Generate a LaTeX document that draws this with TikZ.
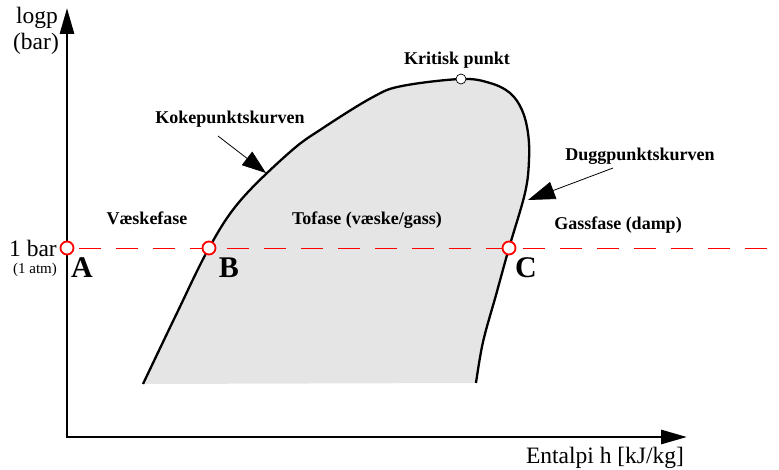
\documentclass[tikz,border=0pt]{standalone}
\usepackage{fontspec}
\setmainfont{Liberation Serif}
\usetikzlibrary{arrows.meta}
\begin{document}
\begin{tikzpicture}[x=1pt,y=-1pt,
  lbl/.style={font=\fontsize{18}{20}\selectfont\bfseries, inner sep=0pt},
  axlbl/.style={font=\fontsize{23.5}{25}\selectfont, inner sep=0pt},
  pt/.style={font=\fontsize{30}{32}\selectfont\bfseries, inner sep=0pt},
  redpt/.style={circle, draw=red, line width=1.8pt, fill=white, minimum size=13pt, inner sep=0pt},
  critpt/.style={circle, draw=black, line width=0.7pt, fill=white, minimum size=10pt, inner sep=0pt},
  curve/.style={line width=2.3pt, line join=round},
  pointer/.style={line width=0.8pt}]
\useasboundingbox (0,0) rectangle (779,470);
% two-phase region
\fill[black!10] plot[smooth, tension=0.6] coordinates {(143,384) (176,315) (209,248) (240,201) (290,152) (323,128) (373,97) (402,86) (461,79) (490,83) (510,93) (522,110) (528,133) (529,160) (525,193) (509,248) (496,295) (483,342) (476,383)} -- cycle;
\draw[curve] plot[smooth, tension=0.6] coordinates {(143,384) (176,315) (209,248) (240,201) (290,152) (323,128) (373,97) (402,86) (461,79) (490,83) (510,93) (522,110) (528,133) (529,160) (525,193) (509,248) (496,295) (483,342) (476,383)};
% axes
\coordinate (O) at (67,437);
\coordinate (ytip) at (67,8);
\coordinate (xtip) at (687,437);
\draw[line width=2.8pt, -{Triangle[length=26pt,width=14pt]}] (O) -- (ytip);
\draw[line width=2.8pt, -{Triangle[length=26pt,width=14pt]}] ([xshift=-1.4pt]O) -- (xtip);
% dashed 1 bar line
\coordinate (dend) at (779,248);
\draw[red, line width=0.9pt, dash pattern=on 22pt off 15pt, dash phase=-12pt] (67,248) -- (dend);
% points
\node[redpt] (A) at (67,248) {};
\node[redpt] (B) at (209,248) {};
\node[redpt] (C) at (509,248) {};
\node[critpt] (K) at (461,79) {};
\node[pt] (Alab) at (82,268) {A};
\node[pt] (Blab) at (229,268) {B};
\node[pt] (Clab) at (526,268) {C};
% axis labels
\node[axlbl] (logp) at (37,18) {logp};
\node[axlbl] (bar) at (36,44) {(bar)};
\node[axlbl] (onebar) at (33,248) {1 bar};
\node[font=\fontsize{15}{17}\selectfont, inner sep=0pt] (atm) at (35,270) {(1 atm)};
\node[axlbl] (xlab) at (605,458) {Entalpi h [kJ/kg]};
% region labels
\node[lbl] (krit) at (457,60) {Kritisk punkt};
\node[lbl] (koke) at (230,119) {Kokepunktskurven};
\node[lbl] (dugg) at (640,156) {Duggpunktskurven};
\node[lbl] (vaske) at (147,218) {Væskefase};
\node[lbl] (tofase) at (367,220) {Tofase (væske/gass)};
\node[lbl] (gass) at (618,225) {Gassfase (damp)};
% pointers
\coordinate (kokestart) at (218,136);
\coordinate (kokeend) at (266,173);
\coordinate (duggstart) at (613,168);
\coordinate (duggend) at (528,200);
\draw[pointer, -{Triangle[length=24pt,width=17pt]}] (kokestart) -- (kokeend);
\draw[pointer, -{Triangle[length=27pt,width=18pt]}] (duggstart) -- (duggend);
\end{tikzpicture}
\end{document}
